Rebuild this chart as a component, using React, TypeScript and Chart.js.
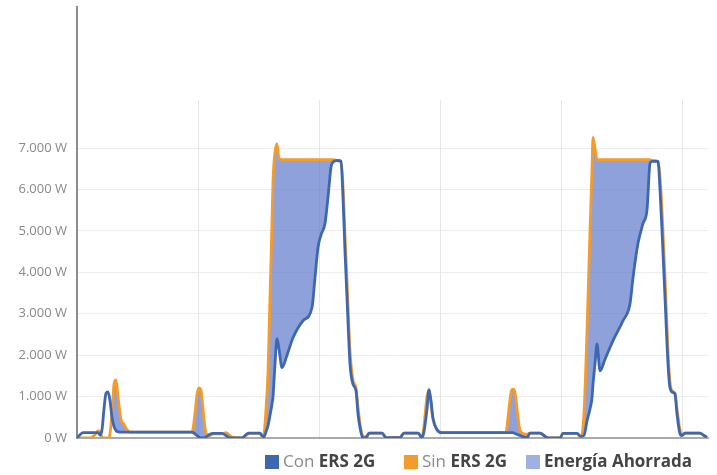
import React, { useEffect, useRef } from "react";
import { Chart, registerables } from "chart.js";

Chart.register(...registerables);

// time axis (arbitrary units, unlabeled in the original)
const tiempo = [
  0, 3, 6, 13, 18, 21, 23, 25, 27, 29, 31, 33, 35, 37, 39, 41, 44, 47, 50, 53,
  115, 118, 120, 122, 124, 126, 128, 130, 133, 136, 145, 149, 152, 155, 165, 169, 172, 183, 185, 187,
  189, 191, 193, 195, 196, 198, 200, 202, 205, 210, 216, 226, 235, 238, 241, 244, 248, 251, 254, 256,
  260, 264, 266, 268, 270, 273, 276, 279, 281, 283, 285, 287, 290, 292, 305, 309, 323, 327, 341, 345,
  347, 350, 352, 354, 356, 360, 365, 429, 431, 434, 436, 438, 441, 443, 447, 450, 453, 463, 468, 471,
  483, 486, 500, 504, 507, 510, 513, 515, 516, 518, 520, 523, 528, 536, 546, 553, 556, 561, 566, 570,
  573, 575, 581, 583, 585, 588, 591, 593, 596, 598, 600, 603, 605, 608, 623, 627, 630,
];

// Con ERS 2G (W)
const conERS = [
  0, 80, 130, 130, 130, 130, 70, 200, 700, 1080, 1110, 900, 500, 280, 180, 150, 140, 140, 140, 140,
  140, 100, 60, 20, 0, 0, 10, 40, 90, 110, 110, 60, 10, 0, 0, 80, 120, 120, 60, 30,
  150, 300, 550, 820, 1000, 1790, 2400, 2150, 1700, 2000, 2420, 2830, 3150, 3870, 4600, 4900, 5180, 5810, 6540, 6660,
  6700, 6680, 5810, 4500, 3390, 1790, 1300, 1140, 580, 250, 50, 0, 40, 120, 120, 10, 10, 120, 120, 10,
  150, 700, 1170, 900, 480, 200, 130, 130, 130, 130, 130, 110, 80, 60, 20, 0, 120, 120, 40, 0,
  0, 110, 110, 40, 60, 410, 700, 970, 1300, 1790, 2270, 1620, 1900, 2350, 2830, 3240, 3870, 4700, 5180, 5500,
  6630, 6680, 6680, 6000, 5010, 3390, 1790, 1210, 1100, 1060, 580, 100, 60, 120, 120, 60, 20,
];

// Sin ERS 2G (W)
const sinERS = [
  0, 0, 0, 0, 80, 170, 150, 20, 0, 0, 0, 100, 600, 1300, 1400, 1000, 450, 330, 200, 140,
  140, 600, 1050, 1210, 1150, 700, 250, 80, 60, 100, 100, 130, 80, 20, 0, 60, 110, 110, 40, 100,
  700, 1600, 3400, 5200, 6200, 6900, 7100, 6750, 6720, 6720, 6720, 6720, 6720, 6720, 6720, 6720, 6720, 6720, 6720, 6720,
  6700, 6680, 6100, 4900, 3800, 2100, 1400, 1200, 750, 350, 100, 30, 40, 120, 120, 10, 10, 120, 120, 10,
  300, 1000, 1150, 800, 450, 200, 130, 130, 500, 1100, 1180, 1100, 500, 180, 100, 90, 120, 120, 40, 0,
  0, 110, 110, 0, 600, 2590, 5010, 6500, 7260, 7000, 6720, 6720, 6720, 6720, 6720, 6720, 6720, 6720, 6720, 6720,
  6720, 6700, 6680, 6300, 5500, 3900, 2100, 1350, 1120, 1080, 700, 200, 80, 120, 120, 60, 20,
];

const yTicks = [0, 1000, 2000, 3000, 4000, 5000, 6000, 7000];
const xGrid = [121, 242, 363, 484, 605];

const BLUE = "#3d68b0";
const ORANGE = "#f39c2b";
const FILL = "rgba(100,125,205,0.72)";
const FILL_SWATCH = "#9fb1e3";

const fmtW = (v: number) =>
  String(v).replace(/\B(?=(\d{3})+(?!\d))/g, ".") + " W";

const axisExt = {
  id: "axisExt",
  beforeDatasetsDraw(chart: any) {
    const { ctx, chartArea } = chart;
    ctx.save();
    ctx.strokeStyle = "#8c8c8c";
    ctx.lineWidth = 2;
    ctx.beginPath();
    ctx.moveTo(chartArea.left, 6);
    ctx.lineTo(chartArea.left, chartArea.bottom + 1);
    ctx.stroke();
    ctx.restore();
  },
};

export default function App() {
  const ref = useRef<HTMLCanvasElement | null>(null);

  useEffect(() => {
    if (!ref.current) return;
    const chart = new Chart(ref.current, {
      type: "line",
      data: {
        datasets: [
          {
            label: "Con ERS 2G",
            data: tiempo.map((t, i) => ({ x: t, y: conERS[i] })),
            borderColor: BLUE,
            borderWidth: 2.8,
            pointRadius: 0,
            cubicInterpolationMode: "monotone",
            fill: false,
          },
          {
            label: "Sin ERS 2G",
            data: tiempo.map((t, i) => ({ x: t, y: sinERS[i] })),
            borderColor: ORANGE,
            borderWidth: 2.8,
            pointRadius: 0,
            cubicInterpolationMode: "monotone",
            fill: { target: 0, above: FILL, below: "rgba(0,0,0,0)" },
          },
        ],
      },
      options: {
        responsive: false,
        animation: false,
        layout: { padding: { left: 0, top: 100, right: 9, bottom: 37 } },
        plugins: { legend: { display: false }, tooltip: { enabled: false } },
        scales: {
          x: {
            type: "linear",
            min: 0,
            max: 631,
            afterBuildTicks: (s: any) => {
              s.ticks = xGrid.map((v) => ({ value: v }));
            },
            afterFit: (s: any) => {
              s.height = 0;
            },
            ticks: { display: false },
            grid: { color: "#e6e6e6", drawTicks: false, lineWidth: 1 },
            border: { color: "#aaaaaa", width: 2 },
          },
          y: {
            min: 0,
            max: 8160,
            afterBuildTicks: (s: any) => {
              s.ticks = yTicks.map((v) => ({ value: v }));
            },
            afterFit: (s: any) => {
              s.width = 77;
            },
            ticks: {
              padding: 10,
              color: "#888888",
              font: { family: "'Open Sans'", size: 13 },
              callback: (v: any) => fmtW(Number(v)),
            },
            grid: { color: "#ececec", drawTicks: false, lineWidth: 1 },
            border: { display: false },
          },
        },
      },
      plugins: [axisExt],
    } as any);
    return () => chart.destroy();
  }, []);

  const sw = (c: string): React.CSSProperties => ({
    display: "inline-block",
    width: 14,
    height: 14,
    background: c,
    marginRight: 4,
    verticalAlign: "-2px",
  });
  const item = (left: number): React.CSSProperties => ({
    position: "absolute",
    left,
    top: 451,
    whiteSpace: "nowrap",
    fontFamily: "'Open Sans', sans-serif",
    fontSize: 17,
    lineHeight: "19px",
  });
  const light: React.CSSProperties = { color: "#8a8a8a" };
  const bold: React.CSSProperties = { color: "#444", fontWeight: 700 };

  return (
    <div style={{ position: "absolute", left: 0, top: 0, width: 717, height: 475, background: "#fff" }}>
      <canvas ref={ref} width={717} height={475} style={{ position: "absolute", left: 0, top: 0 }} />
      <div style={item(265)}>
        <span style={sw(BLUE)} />
        <span style={light}>Con </span>
        <span style={bold}>ERS 2G</span>
      </div>
      <div style={item(404)}>
        <span style={sw(ORANGE)} />
        <span style={light}>Sin </span>
        <span style={bold}>ERS 2G</span>
      </div>
      <div style={item(526)}>
        <span style={sw(FILL_SWATCH)} />
        <span style={bold}>Energía Ahorrada</span>
      </div>
    </div>
  );
}
